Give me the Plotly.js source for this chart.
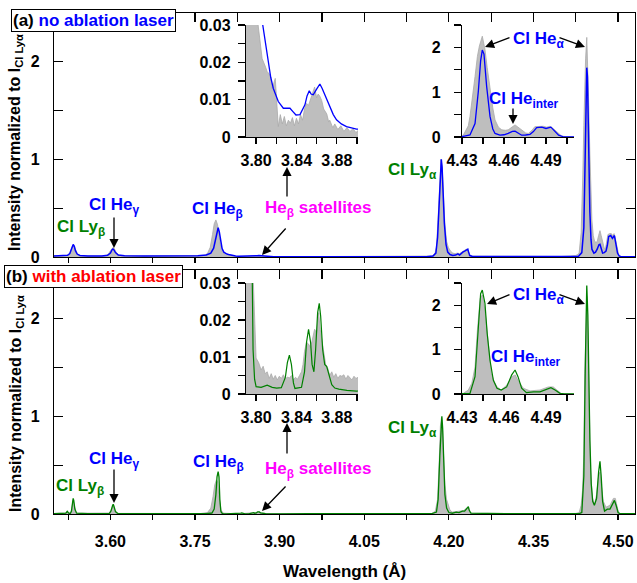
<!DOCTYPE html>
<html><head><meta charset="utf-8">
<script src="https://cdn.plot.ly/plotly-3.0.1.min.js"></script>
<style>html,body{margin:0;padding:0;background:#fff}</style>
</head><body><div id="chart" style="width:637px;height:583px"></div>
<script>
// ---------- DATA ----------
// Panel (a) measured spectrum (gray) - no ablation laser
const wlA_meas = [3.500,3.510,3.520,3.526,3.529,3.531,3.533,3.535,3.537,3.539,3.542,3.546,3.560,3.580,3.592,3.597,3.600,3.603,3.605,3.607,3.610,3.614,3.620,3.650,3.700,3.740,3.765,3.772,3.777,3.781,3.784,3.787,3.790,3.793,3.796,3.799,3.802,3.804,3.806,3.809,3.811,3.814,3.816,3.819,3.8205,3.822,3.824,3.826,3.828,3.830,3.832,3.834,3.836,3.838,3.840,3.842,3.844,3.846,3.848,3.850,3.852,3.855,3.857,3.858,3.860,3.8615,3.863,3.865,3.867,3.870,3.872,3.873,3.876,3.878,3.881,3.884,3.887,3.890,3.893,3.896,3.899,3.902,3.950,4.050,4.150,4.170,4.175,4.178,4.181,4.184,4.186,4.188,4.190,4.193,4.196,4.199,4.203,4.207,4.211,4.215,4.219,4.223,4.227,4.231,4.234,4.237,4.242,4.300,4.400,4.415,4.425,4.430,4.431,4.4345,4.4357,4.4375,4.4393,4.441,4.4424,4.4445,4.4464,4.448,4.450,4.452,4.4536,4.456,4.4584,4.461,4.463,4.4655,4.4679,4.470,4.4726,4.4755,4.4774,4.480,4.482,4.485,4.488,4.4905,4.4929,4.4955,4.4976,4.5012,4.505,4.530];
const intA_meas = [0.012,0.010,0.012,0.020,0.045,0.085,0.115,0.120,0.095,0.055,0.025,0.012,0.010,0.010,0.014,0.035,0.065,0.095,0.100,0.085,0.050,0.022,0.012,0.010,0.010,0.010,0.015,0.035,0.100,0.230,0.340,0.380,0.330,0.200,0.080,0.045,0.030,0.0245,0.021,0.019,0.0175,0.0166,0.013,0.0157,0.008,0.0028,0.006,0.0035,0.0055,0.003,0.0045,0.0037,0.0052,0.003,0.005,0.0035,0.006,0.0045,0.0075,0.009,0.0085,0.0107,0.0125,0.0134,0.0105,0.0115,0.011,0.0098,0.0075,0.0062,0.004,0.0045,0.0025,0.0035,0.002,0.003,0.0015,0.0025,0.0015,0.0022,0.0012,0.002,0.004,0.004,0.005,0.010,0.030,0.100,0.400,0.820,1.000,0.930,0.650,0.330,0.160,0.100,0.060,0.040,0.035,0.040,0.035,0.050,0.060,0.080,0.070,0.020,0.008,0.005,0.005,0.010,0.015,0.030,0.045,0.25,0.46,0.85,1.35,1.80,2.03,2.25,1.96,1.55,1.06,0.65,0.38,0.22,0.16,0.15,0.16,0.22,0.27,0.22,0.16,0.09,0.08,0.15,0.23,0.24,0.24,0.22,0.24,0.18,0.12,0.02,0.005,0.005];

// Panel (a) simulated spectrum (blue)
const wlA_sim = [3.500,3.515,3.524,3.528,3.531,3.533,3.534,3.536,3.538,3.541,3.546,3.560,3.585,3.595,3.600,3.603,3.6045,3.606,3.609,3.614,3.625,3.660,3.720,3.755,3.770,3.778,3.783,3.786,3.789,3.791,3.793,3.795,3.798,3.801,3.804,3.8066,3.8095,3.8122,3.8145,3.8171,3.822,3.827,3.8336,3.8365,3.8395,3.8435,3.8465,3.8484,3.8505,3.8527,3.8545,3.8566,3.860,3.8632,3.8655,3.868,3.873,3.8765,3.8797,3.8845,3.8896,3.8995,3.930,4.050,4.160,4.172,4.177,4.180,4.183,4.1855,4.1866,4.188,4.190,4.192,4.195,4.198,4.202,4.207,4.212,4.216,4.219,4.2225,4.2247,4.228,4.2315,4.2336,4.235,4.237,4.242,4.350,4.420,4.430,4.4357,4.4393,4.4417,4.4433,4.4445,4.4457,4.4476,4.450,4.452,4.4536,4.4571,4.460,4.463,4.466,4.4679,4.470,4.4726,4.4755,4.4786,4.481,4.4833,4.487,4.490,4.4935,4.4957,4.4975,4.499,4.502,4.505,4.530];
const intA_sim = [0.010,0.012,0.018,0.035,0.080,0.120,0.128,0.110,0.065,0.030,0.015,0.010,0.010,0.018,0.040,0.075,0.082,0.075,0.045,0.020,0.012,0.010,0.010,0.012,0.020,0.040,0.090,0.170,0.275,0.300,0.260,0.170,0.085,0.050,0.036,0.030,0.025,0.0206,0.016,0.013,0.0095,0.0077,0.0077,0.0068,0.0059,0.006,0.0075,0.0086,0.011,0.0124,0.0115,0.0113,0.0128,0.0142,0.013,0.0115,0.0081,0.006,0.0046,0.0035,0.0028,0.0021,0.0018,0.0015,0.003,0.010,0.040,0.200,0.600,0.950,1.000,0.920,0.650,0.350,0.130,0.050,0.025,0.015,0.020,0.032,0.020,0.040,0.050,0.060,0.075,0.080,0.050,0.015,0.005,0.003,0.003,0.008,0.045,0.30,1.03,1.70,1.94,1.85,1.13,0.46,0.18,0.08,0.04,0.05,0.08,0.125,0.13,0.09,0.04,0.045,0.06,0.12,0.21,0.22,0.19,0.22,0.15,0.08,0.04,0.01,0.003,0.003];

// Panel (b) measured spectrum (gray) - with ablation laser
const wlB_meas = [3.500,3.515,3.521,3.5235,3.526,3.530,3.532,3.534,3.536,3.538,3.542,3.580,3.598,3.602,3.605,3.607,3.610,3.615,3.680,3.690,3.700,3.760,3.772,3.778,3.782,3.785,3.788,3.790,3.792,3.794,3.796,3.7975,3.800,3.8025,3.805,3.807,3.809,3.811,3.813,3.815,3.817,3.819,3.821,3.823,3.825,3.827,3.829,3.831,3.833,3.835,3.837,3.839,3.841,3.843,3.845,3.8465,3.848,3.850,3.852,3.854,3.856,3.858,3.860,3.862,3.8635,3.865,3.867,3.869,3.871,3.873,3.875,3.877,3.879,3.881,3.883,3.885,3.887,3.889,3.891,3.893,3.895,3.897,3.899,3.901,3.950,4.100,4.170,4.176,4.180,4.183,4.185,4.187,4.189,4.191,4.193,4.196,4.199,4.202,4.206,4.213,4.220,4.226,4.2315,4.2346,4.237,4.242,4.400,4.425,4.431,4.4345,4.437,4.4393,4.441,4.443,4.4445,4.4464,4.4488,4.451,4.453,4.455,4.458,4.462,4.4655,4.468,4.470,4.4738,4.4786,4.4857,4.4917,4.4952,4.497,4.499,4.501,4.505,4.530];
const intB_meas = [0.005,0.005,0.010,0.025,0.010,0.015,0.070,0.140,0.090,0.030,0.008,0.005,0.010,0.050,0.090,0.055,0.015,0.006,0.008,0.010,0.005,0.005,0.015,0.060,0.180,0.300,0.350,0.330,0.200,0.090,0.040,0.030,0.0097,0.0085,0.0065,0.0075,0.0055,0.006,0.0042,0.0055,0.004,0.005,0.0038,0.0048,0.0042,0.0052,0.004,0.0046,0.0043,0.005,0.0038,0.0045,0.004,0.005,0.006,0.008,0.0115,0.014,0.0135,0.0125,0.0155,0.0175,0.0165,0.022,0.0175,0.0145,0.012,0.008,0.007,0.005,0.006,0.0045,0.0055,0.0042,0.005,0.0048,0.0052,0.004,0.005,0.0045,0.0038,0.0048,0.0042,0.0045,0.004,0.004,0.005,0.030,0.150,0.550,0.900,0.990,0.850,0.550,0.300,0.150,0.090,0.040,0.020,0.025,0.030,0.035,0.060,0.070,0.020,0.006,0.004,0.006,0.015,0.09,0.24,0.61,1.44,2.15,2.23,1.89,1.06,0.46,0.28,0.16,0.09,0.20,0.39,0.43,0.31,0.13,0.07,0.09,0.16,0.16,0.11,0.05,0.01,0.004,0.004];

// Panel (b) simulated spectrum (green)
const wlB_sim = [3.500,3.518,3.521,3.5235,3.526,3.529,3.531,3.533,3.534,3.535,3.537,3.540,3.560,3.598,3.601,3.604,3.605,3.606,3.609,3.613,3.670,3.677,3.684,3.690,3.700,3.770,3.780,3.784,3.787,3.789,3.791,3.7925,3.794,3.795,3.7958,3.797,3.7985,3.800,3.805,3.811,3.816,3.8204,3.825,3.829,3.831,3.833,3.835,3.837,3.8385,3.845,3.848,3.850,3.852,3.854,3.8555,3.8573,3.859,3.861,3.8626,3.864,3.866,3.868,3.870,3.8725,3.875,3.878,3.882,3.890,3.8995,3.950,4.050,4.100,4.170,4.178,4.181,4.184,4.186,4.1876,4.189,4.191,4.193,4.196,4.200,4.206,4.213,4.218,4.224,4.228,4.232,4.2346,4.236,4.239,4.300,4.420,4.432,4.4357,4.4393,4.4417,4.4433,4.4445,4.4464,4.448,4.450,4.4524,4.455,4.458,4.4619,4.4655,4.4679,4.470,4.4726,4.476,4.481,4.4857,4.4905,4.4935,4.4965,4.500,4.503,4.530];
const intB_sim = [0.003,0.004,0.008,0.028,0.008,0.006,0.030,0.120,0.160,0.140,0.050,0.008,0.004,0.005,0.030,0.090,0.100,0.085,0.025,0.005,0.004,0.010,0.004,0.006,0.004,0.004,0.010,0.050,0.200,0.380,0.434,0.380,0.150,0.060,0.030,0.012,0.004,0.002,0.0018,0.0024,0.0018,0.0016,0.0017,0.0045,0.0085,0.0105,0.008,0.003,0.0015,0.0018,0.006,0.014,0.0175,0.014,0.008,0.006,0.012,0.022,0.0245,0.021,0.012,0.008,0.0074,0.005,0.0025,0.0016,0.0013,0.001,0.0008,0.003,0.004,0.003,0.004,0.020,0.150,0.600,0.950,1.000,0.880,0.500,0.200,0.060,0.015,0.008,0.020,0.015,0.030,0.030,0.060,0.075,0.040,0.008,0.004,0.004,0.006,0.015,0.39,1.44,2.26,2.34,2.04,1.36,0.76,0.31,0.13,0.09,0.16,0.43,0.54,0.39,0.13,0.03,0.05,0.05,0.10,0.14,0.09,0.015,0.004,0.004];

// Tick labels
const mainXVals = [3.525,3.60,3.675,3.75,3.825,3.90,3.975,4.05,4.125,4.20,4.275,4.35,4.425,4.50];
const mainXText = ['','3.60','','3.75','','3.90','','4.05','','4.20','','4.35','','4.50'];
const mainYVals = [0,0.5,1,1.5,2,2.5];
const mainYText = ['0','','1','','2',''];
const insetLowXVals = [3.80,3.82,3.84,3.86,3.88,3.90];
const insetLowXText = ['3.80','','3.84','','3.88',''];
const insetLowYVals = [0,0.005,0.01,0.015,0.02,0.025,0.03];
const insetLowYText = ['0','','0.01','','0.02','','0.03'];
const insetHighXVals = [4.43,4.445,4.46,4.475,4.49,4.505];
const insetHighXText = ['4.43','','4.46','','4.49',''];
const insetHighYVals = [0,0.5,1,1.5,2,2.5];
const insetHighYText = ['0','','1','','2',''];

// ---------- STYLE ----------
const W = 637, H = 583;
const PX = x => x / W;
const PY = y => 1 - y / H;
const FAM = 'Liberation Sans, Arial, Helvetica, sans-serif';
const BLUE = '#0000ff', GREEN = '#008000', MAG = '#ff00ff', RED = '#ff0000';
const tickFont = {family: FAM, size: 16, weight: 'bold', color: '#000'};

function gray(x, y, xa, ya) {
  return {type: 'scatter', mode: 'lines', x: x, y: y, xaxis: xa, yaxis: ya,
    fill: 'tozeroy', fillcolor: 'rgb(190,190,190)',
    line: {color: 'rgb(170,170,170)', width: 0.8}, hoverinfo: 'skip', showlegend: false};
}
function sim(x, y, xa, ya, color, w) {
  return {type: 'scatter', mode: 'lines', x: x, y: y, xaxis: xa, yaxis: ya,
    line: {color: color, width: w}, hoverinfo: 'skip', showlegend: false};
}
const traces = [
  gray(wlA_meas, intA_meas, 'x', 'y'), sim(wlA_sim, intA_sim, 'x', 'y', BLUE, 1.5),
  gray(wlB_meas, intB_meas, 'x2', 'y2'), sim(wlB_sim, intB_sim, 'x2', 'y2', GREEN, 1.3),
  gray(wlA_meas, intA_meas, 'x3', 'y3'), sim(wlA_sim, intA_sim, 'x3', 'y3', BLUE, 1.3),
  gray(wlA_meas, intA_meas, 'x4', 'y4'), sim(wlA_sim, intA_sim, 'x4', 'y4', BLUE, 1.3),
  gray(wlB_meas, intB_meas, 'x5', 'y5'), sim(wlB_sim, intB_sim, 'x5', 'y5', GREEN, 1.2),
  gray(wlB_meas, intB_meas, 'x6', 'y6'), sim(wlB_sim, intB_sim, 'x6', 'y6', GREEN, 1.2),
  {type: 'scatter', mode: 'lines', x: [], y: [], xaxis: 'x7', yaxis: 'y', showlegend: false, hoverinfo: 'skip'},
  {type: 'scatter', mode: 'lines', x: [], y: [], xaxis: 'x8', yaxis: 'y2', showlegend: false, hoverinfo: 'skip'}
];

const base = {showgrid: false, zeroline: false, tickcolor: '#000', linecolor: '#000', tickfont: tickFont, tickmode: 'array'};
function mainX(anchor, labels) {
  return Object.assign({}, base, {domain: [PX(54), PX(635)], anchor: anchor, range: [3.50, 4.53],
    tickvals: mainXVals, ticktext: mainXText, showticklabels: labels, ticks: 'outside', ticklen: 5, tickwidth: 1.2,
    showline: true, linewidth: 1.2, mirror: true, ticklabelstandoff: 8});
}
function topX(over, anchor) {
  return Object.assign({}, base, {overlaying: over, side: 'top', anchor: anchor, range: [3.50, 4.53],
    tickvals: mainXVals, ticktext: mainXText, showticklabels: false, ticks: 'inside', ticklen: 9, tickwidth: 1.2, showline: false});
}
function mainY(anchor, top, bottom) {
  return Object.assign({}, base, {domain: [PY(bottom), PY(top)], anchor: anchor, range: [0, 2.5],
    tickvals: mainYVals, ticktext: mainYText, ticks: 'inside', ticklen: 9, tickwidth: 1.2,
    showline: true, linewidth: 1.2, mirror: 'ticks', ticklabelstandoff: 10});
}
function insX(anchor, x0, x1, range, vals, text) {
  return Object.assign({}, base, {domain: [PX(x0), PX(x1)], anchor: anchor, range: range,
    tickvals: vals, ticktext: text, ticks: 'outside', ticklen: 6, tickwidth: 1.2,
    showline: true, linewidth: 1.2, ticklabelstandoff: 3});
}
function insY(anchor, top, bottom, range, vals, text, so) {
  return Object.assign({}, base, {domain: [PY(bottom), PY(top)], anchor: anchor, range: range,
    tickvals: vals, ticktext: text, ticks: 'outside', ticklen: 7, tickwidth: 1.2,
    showline: true, linewidth: 1.2, ticklabelstandoff: so});
}

const lab = (text, x, y, color, size) => ({text: text, x: PX(x), y: PY(y), xref: 'paper', yref: 'paper',
  xanchor: 'center', yanchor: 'middle', showarrow: false, font: {family: FAM, size: size || 17, weight: 'bold', color: color}});
const arr = (hx, hy, tx, ty) => ({text: '', x: PX(hx), y: PY(hy), xref: 'paper', yref: 'paper',
  ax: tx - hx, ay: ty - hy, axref: 'pixel', ayref: 'pixel', showarrow: true,
  arrowhead: 2, arrowsize: 1.4, arrowwidth: 1.3, arrowcolor: '#000', standoff: 0});

const annotations = [
  // axis titles
  {text: 'Intensity normalized to I<sub>Cl Lyα</sub>', textangle: -90, x: PX(16), y: PY(143), xref: 'paper', yref: 'paper',
   xanchor: 'center', yanchor: 'middle', showarrow: false, font: {family: FAM, size: 16, weight: 'bold', color: '#000'}},
  {text: 'Intensity normalized to I<sub>Cl Lyα</sub>', textangle: -90, x: PX(16), y: PY(404), xref: 'paper', yref: 'paper',
   xanchor: 'center', yanchor: 'middle', showarrow: false, font: {family: FAM, size: 16, weight: 'bold', color: '#000'}},
  lab('Wavelength (Å)', 344, 571, '#000', 17),
  // panel boxes
  {text: '(a) <span style="color:#0000ff">no ablation laser</span>', x: PX(93), y: PY(20), xref: 'paper', yref: 'paper',
   xanchor: 'center', yanchor: 'middle', showarrow: false, bgcolor: '#fff', bordercolor: '#000', borderwidth: 1, borderpad: 1,
   font: {family: FAM, size: 17, weight: 'bold', color: '#000'}},
  {text: '(b) <span style="color:#ff0000">with ablation laser</span>', x: PX(93), y: PY(276), xref: 'paper', yref: 'paper',
   xanchor: 'center', yanchor: 'middle', showarrow: false, bgcolor: '#fff', bordercolor: '#000', borderwidth: 1, borderpad: 1,
   font: {family: FAM, size: 17, weight: 'bold', color: '#000'}},
  // panel (a) labels
  lab('Cl Ly<sub>β</sub>', 81, 228, GREEN), lab('Cl He<sub>γ</sub>', 114, 206, BLUE),
  lab('Cl He<sub>β</sub>', 217, 210, BLUE), lab('He<sub>β</sub> satellites', 318, 209, MAG),
  lab('Cl Ly<sub>α</sub>', 412, 171, GREEN), lab('Cl He<sub>α</sub>', 538, 40, BLUE),
  lab('Cl He<sub>inter</sub>', 524, 100, BLUE),
  // panel (b) labels
  lab('Cl Ly<sub>β</sub>', 80, 487, GREEN), lab('Cl He<sub>γ</sub>', 114, 460, BLUE),
  lab('Cl He<sub>β</sub>', 218, 463, BLUE), lab('He<sub>β</sub> satellites', 318, 470, MAG),
  lab('Cl Ly<sub>α</sub>', 412, 429, GREEN), lab('Cl He<sub>α</sub>', 538, 296, BLUE),
  lab('Cl He<sub>inter</sub>', 526, 358, BLUE),
  // arrows panel (a)
  arr(114, 248, 114, 216), arr(262, 255, 287, 227), arr(287, 167, 287, 198),
  arr(485, 47, 511, 37), arr(585, 47, 558, 37), arr(513, 124, 513, 107),
  // arrows panel (b)
  arr(114, 503, 114, 468), arr(262, 511, 287, 485), arr(287, 423, 287, 455),
  arr(487, 304, 511, 294), arr(585, 304, 558, 294)
];

const layout = {
  width: W, height: H, autosize: false,
  margin: {l: 0, r: 0, t: 0, b: 0, pad: 0},
  paper_bgcolor: '#fff', plot_bgcolor: 'rgba(0,0,0,0)',
  showlegend: false,
  font: {family: FAM, color: '#000'},
  xaxis: mainX('y', false),
  yaxis: mainY('x', 13, 257),
  xaxis2: mainX('y2', true),
  yaxis2: mainY('x2', 270, 514),
  xaxis3: insX('y3', 246, 358, [3.79, 3.901], insetLowXVals, insetLowXText),
  yaxis3: insY('x3', 25, 137, [0, 0.03], insetLowYVals, insetLowYText, 4),
  xaxis4: insX('y4', 462, 574, [4.43, 4.51], insetHighXVals, insetHighXText),
  yaxis4: insY('x4', 25, 137, [0, 2.5], insetHighYVals, insetHighYText, 10),
  xaxis5: insX('y5', 246, 358, [3.79, 3.901], insetLowXVals, insetLowXText),
  yaxis5: insY('x5', 283, 394, [0, 0.03], insetLowYVals, insetLowYText, 4),
  xaxis6: insX('y6', 462, 574, [4.43, 4.51], insetHighXVals, insetHighXText),
  yaxis6: insY('x6', 283, 394, [0, 2.5], insetHighYVals, insetHighYText, 10),
  xaxis7: topX('x', 'y'),
  xaxis8: topX('x2', 'y2'),
  annotations: annotations
};

Plotly.newPlot('chart', traces, layout, {staticPlot: true, displayModeBar: false});
</script></body></html>
